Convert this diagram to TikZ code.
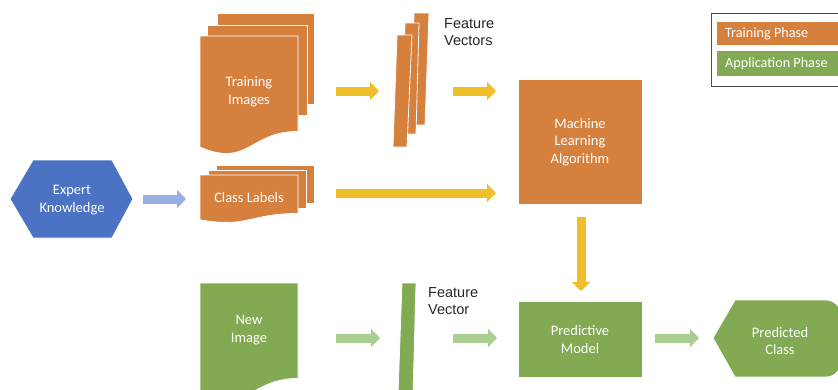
\documentclass[tikz,border=0pt]{standalone}
\usepackage{fontspec}
\setmainfont{Carlito}
\newfontfamily\arialf{Liberation Sans}
\usetikzlibrary{arrows.meta}
\definecolor{orng}{HTML}{D6803D}
\definecolor{grn}{HTML}{82AA52}
\definecolor{ylw}{HTML}{F0BE28}
\definecolor{lgrn}{HTML}{AACD91}
\definecolor{blu}{HTML}{4C72C4}
\definecolor{lblu}{HTML}{96AFE1}
\newcommand\docshape[5]{%
  \filldraw[#1] (#2,#3) -- (#4,#3) -- (#4,{#3+0.802*#5})
    .. controls ({(#2+#4)/2},{#3+0.802*#5}) and ({(#2+#4)/2},{#3+1.108*#5}) .. (#2,{#3+0.934*#5}) -- cycle;}
\begin{document}
\begin{tikzpicture}[x=1pt,y=-1pt,
  lbl/.style={text=white,font=\fontsize{14.5}{17.5}\selectfont,align=center,inner sep=0},
  captxt/.style={text=black!85,font=\arialf\fontsize{14.5}{17}\selectfont,align=left,anchor=west,inner sep=0},
  leg/.style={text=white,font=\fontsize{14.2}{16}\selectfont,anchor=west,inner sep=0},
  sheet/.style={draw=white,line width=0.8pt},
  blk/.style={line width=9pt,-{Triangle[length=9pt,width=18pt]}},
]
\clip (0,0) rectangle (838,389);
\fill[white] (0,0) rectangle (838,389);

% Training images stack
\filldraw[orng,sheet] (217,13) rectangle (314,104);
\filldraw[orng,sheet] (207,25) rectangle (307,115);
\docshape{orng,sheet}{200}{36}{298}{119}
\node[lbl] (ti) at (249,92) {Training\\Images};

% Class labels stack
\filldraw[orng,sheet] (216,165) rectangle (314,203);
\filldraw[orng,sheet] (208,170) rectangle (306,208);
\docshape{orng,sheet}{200}{175}{298}{48}
\node[lbl] (cl) at (249,198) {Class Labels};

% Feature vectors
\filldraw[orng,sheet] (414,13) -- (429,13) -- (425,125) -- (411,125) -- cycle;
\filldraw[orng,sheet] (405,23) -- (419,23) -- (416,134) -- (402,134) -- cycle;
\filldraw[orng,sheet] (397,35) -- (412,35) -- (407,147) -- (393,147) -- cycle;
\node[captxt] (fvs) at (444,32) {Feature\\Vectors};

% Machine learning
\node[fill=orng,draw=white,line width=0.8pt,minimum width=124pt,minimum height=125pt,inner sep=0] (ml) at (580,141.5) {};
\node[lbl] (mlt) at (580,142) {Machine\\Learning\\Algorithm};

% Expert knowledge
\filldraw[blu,sheet] (10,199) -- (33,160) -- (112,160) -- (133,199) -- (112,238) -- (33,238) -- cycle;
\node[lbl] (ek) at (72,200) {Expert\\Knowledge};

% New image
\docshape{grn,sheet}{200}{283}{298}{119}
\node[lbl] (ni) at (249,330) {New\\Image};

% Feature vector (application)
\filldraw[grn,sheet] (402,283) -- (416,283) -- (413,395) -- (398,395) -- cycle;
\node[captxt] (fv) at (428,301) {Feature\\Vector};

% Predictive model
\node[fill=grn,draw=white,line width=0.8pt,minimum width=124pt,minimum height=76pt,inner sep=0] (pm) at (580,339) {};
\node[lbl] (pmt) at (580,339.5) {Predictive\\Model};

% Predicted class
\filldraw[grn,sheet] (713,338) -- (735,300) {[rounded corners=15pt] -- (841,300) -- (841,377)} -- (735,377) -- cycle;
\node[lbl] (pc) at (780,341) {Predicted\\Class};

% Legend
\draw[black!70,line width=1pt] (711,13) rectangle (850,86);
\fill[orng] (717,22) rectangle (850,45);
\fill[grn] (717,51) rectangle (850,76);
\node[leg] (lt) at (725,34) {Training Phase};
\node[leg] (la) at (725,64) {Application Phase};

% Arrows
\coordinate (a1s) at (336,91); \coordinate (a1e) at (379,91);
\coordinate (a2s) at (453,91); \coordinate (a2e) at (496,91);
\coordinate (a3s) at (336,193); \coordinate (a3e) at (496,193);
\coordinate (a4s) at (581,217); \coordinate (a4e) at (581,291);
\coordinate (b1s) at (143,199); \coordinate (b1e) at (186,199);
\coordinate (g1s) at (336,338); \coordinate (g1e) at (380,338);
\coordinate (g2s) at (453,338); \coordinate (g2e) at (497,338);
\coordinate (g3s) at (655,338); \coordinate (g3e) at (699,338);
\draw[blk,ylw] (a1s) -- (a1e);
\draw[blk,ylw] (a2s) -- (a2e);
\draw[blk,ylw] (a3s) -- (a3e);
\draw[blk,ylw] (a4s) -- (a4e);
\draw[blk,lblu] (b1s) -- (b1e);
\draw[blk,lgrn] (g1s) -- (g1e);
\draw[blk,lgrn] (g2s) -- (g2e);
\draw[blk,lgrn] (g3s) -- (g3e);
\end{tikzpicture}
\end{document}
